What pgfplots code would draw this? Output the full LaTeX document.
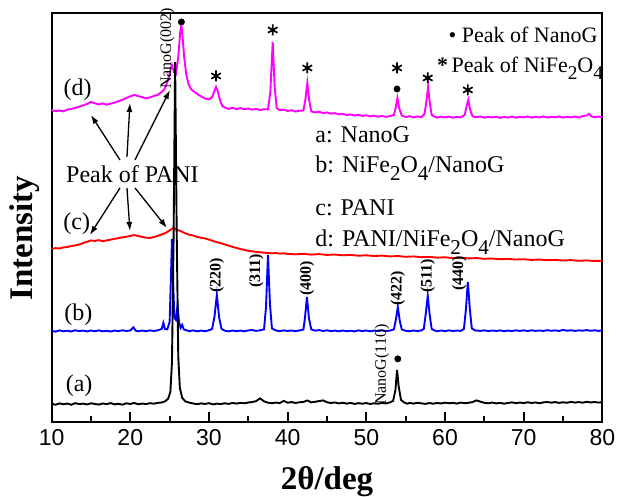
\documentclass[border=0pt]{standalone}
\usepackage{fontspec}
\setmainfont{Liberation Serif}
\setsansfont{Liberation Sans}
\usepackage{graphicx}
\usepackage{pgfplots}
\pgfplotsset{compat=1.18}
\usetikzlibrary{arrows.meta}
\definecolor{cmag}{RGB}{255,0,255}
\definecolor{cred}{RGB}{255,0,0}
\definecolor{cblue}{RGB}{0,0,255}
\newcommand{\fs}[1]{\fontsize{#1}{#1}\selectfont}
\newcommand{\sub}[1]{\raisebox{-0.3em}{\scalebox{0.88}{#1}}}

\begin{document}
\begin{tikzpicture}
\useasboundingbox (-51.6pt,-75pt) rectangle (565.6pt,422pt);
\begin{axis}[
  scale only axis, width=551pt, height=409pt,
  xmin=10, xmax=80, ymin=0, ymax=409,
  clip=false,
  axis line style={line width=2pt},
  xtick={10,20,...,80}, minor x tick num=1, ytick=\empty,
  xtick pos=left, tick align=inside,
  major tick length=10pt, minor tick length=6pt,
  tick style={line width=1.8pt, black},
  /pgf/number format/assume math mode=true,
  xticklabel style={font=\fs{23}\sffamily, yshift=-4pt},
  xlabel={2θ/deg},
  xlabel style={font=\fs{33}\bfseries, at={(axis description cs:0.5,0)}, anchor=base, yshift=-68pt},
  ylabel={Intensity},
  ylabel style={font=\fs{33}\bfseries, at={(axis description cs:-0.0338,0.4487)}, anchor=base},
]
% (d) PANI/NiFe2O4/NanoG
\addplot[cmag, line width=1.9pt] coordinates {
(10,312.0) (10.5,310.8) (11,311.5) (11.5,310.6) (12,312.3) (12.5,313.1) (13,314.0) (13.5,315.3)
(14,316.6) (14.5,318.0) (15,320.0) (15.5,318.7) (16,317.5) (16.5,318.6) (17,317.2) (17.5,318.4)
(18,319.3) (18.5,320.8) (19,322.1) (19.5,324.0) (20,325.6) (20.5,327.0) (21,325.9) (21.5,324.8)
(22,323.6) (22.5,324.5) (23,326.0) (23.5,327.3) (24,330.0) (24.4,333.5) (24.8,342) (25.1,352)
(25.3,357) (25.55,350) (25.8,348) (26.1,365) (26.35,390) (26.5,397) (26.65,385) (26.85,365)
(27.1,348) (27.4,338) (27.7,333) (28.0,331) (28.5,328) (29,325.5) (29.5,323.5) (30.0,322.5)
(30.4,325) (30.7,331) (30.9,335) (31.1,331) (31.4,322) (31.7,316) (32,314.5) (32.5,313.0)
(33,314.2) (33.5,312.8) (34,313.9) (34.5,312.6) (35,313.5) (35.5,312.3) (36,313.1) (36.5,311.9)
(37,312.8) (37.5,312.5) (37.8,330) (38.1,380) (38.35,335) (38.6,314) (39,311.7) (39.5,312.3)
(40,311.0) (40.5,311.8) (41,310.4) (41.5,311.2) (42,311.5) (42.25,322) (42.5,339) (42.75,321)
(43.0,310.5) (43.5,309.6) (44,310.2) (44.5,308.9) (45,309.5) (45.5,308.3) (46,308.8) (46.5,307.6)
(47,308.1) (47.5,306.9) (48,307.5) (48.5,306.4) (49,307.2) (49.5,306.0) (50,306.7) (50.5,305.6)
(51,306.3) (51.5,305.2) (52,306.0) (52.5,305.1) (53,305.8) (53.5,307) (53.75,315) (53.95,324)
(54.2,313) (54.5,306.5) (55,305.0) (55.5,305.8) (56,304.6) (56.5,305.5) (57,304.8) (57.4,308)
(57.65,322) (57.85,335) (58.05,320) (58.3,307) (58.7,305.2) (59,304.3) (59.5,305.3) (60,304.5)
(60.5,305.4) (61,304.2) (61.5,305.1) (62,304.6) (62.5,307) (62.75,316) (62.95,322) (63.2,312)
(63.5,305.5) (64,304.8) (64.5,305.5) (65,304.3) (65.5,305.2) (66,304.5) (66.5,305.3) (67,304.1)
(67.5,305.0) (68,304.4) (68.5,305.4) (69,304.2) (69.5,305.1) (70,304.6) (70.5,305.5) (71,304.3)
(71.5,305.2) (72,304.5) (72.5,305.6) (73,304.4) (73.5,305.1) (74,304.7) (74.5,305.5) (75,304.3)
(75.5,305.2) (76,304.6) (76.5,305.4) (77,304.5) (77.5,305.8) (78,306.5) (78.3,308) (78.6,305.6)
(79,304.8) (79.5,305.4) (80,304.7)};
% (c) PANI
\addplot[cred, line width=1.9pt] coordinates {
(10,173.0) (10.5,173.8) (11,173.4) (11.5,174.5) (12,174.9) (12.5,175.9) (13,176.5) (13.5,177.4)
(14,178.8) (14.5,180.1) (15,181.5) (15.5,181.0) (16,181.8) (16.5,180.7) (17,181.5) (17.5,182.3)
(18,183.1) (18.5,183.8) (19,184.6) (19.5,185.2) (20,186.0) (20.5,186.8) (21,186.0) (21.5,185.0)
(22,184.2) (22.5,184.0) (23,184.9) (23.5,186.0) (24,187.5) (24.5,189.0) (25,191.5) (25.5,194.0)
(26,192.0) (26.5,190.5) (27,188.5) (27.5,187.2) (28,186.4) (28.5,185.0) (29,184.2) (29.5,183.5)
(30,182.3) (30.5,181.0) (31,179.7) (31.5,178.8) (32,177.5) (32.5,176.3) (33,175.0) (33.5,174.0)
(34,172.8) (34.5,172.1) (35,171.0) (35.5,170.6) (36,170.0) (36.5,169.6) (37,169.2) (37.5,169.0)
(38,168.6) (38.5,168.9) (39,168.3) (39.5,168.6) (40,168.0) (41,167.6) (42,168.1) (43,167.3)
(44,167.8) (45,167.0) (46,167.4) (47,166.6) (48,167.0) (49,166.2) (50,166.6) (51,165.9)
(52,166.3) (53,165.5) (54,165.9) (55,165.1) (56,165.5) (57,164.7) (58,165.0) (59,164.3)
(60,164.6) (61,163.9) (62,164.2) (63,163.5) (64,163.8) (65,163.1) (66,163.4) (67,162.7)
(68,163.0) (69,162.4) (70,162.7) (71,162.0) (72,162.4) (73,161.7) (74,162.0) (75,161.4)
(76,161.8) (77,161.1) (78,161.5) (79,160.9) (80,161.2)};
% (b) NiFe2O4/NanoG
\addplot[cblue, line width=1.9pt] coordinates {
(10,91.0) (10.5,90.3) (11,91.5) (11.5,90.6) (12,91.2) (12.5,90.4) (13,91.6) (13.5,90.8)
(14,91.3) (14.5,90.5) (15,91.4) (15.5,90.7) (16,91.5) (16.5,90.6) (17,91.1) (17.5,90.4)
(18,91.3) (18.5,90.8) (19,91.6) (19.5,90.9) (20,91.4) (20.4,94.5) (20.7,91.2) (21,90.6)
(21.5,91.3) (22,90.7) (22.5,91.5) (23,90.9) (23.5,91.6) (24.0,93) (24.2,99) (24.4,93)
(24.7,92.5) (25.0,100) (25.15,140) (25.3,183) (25.45,140) (25.6,104) (25.8,102) (26.0,116)
(26.2,100) (26.4,94) (26.6,97) (26.8,92.5) (27.2,91.4) (27.5,90.8) (28,91.5) (28.5,90.6)
(29,91.3) (29.5,90.7) (30,91.6) (30.4,93) (30.7,105) (31.0,127) (31.3,104) (31.6,93)
(32,91.2) (32.5,90.5) (33,91.4) (33.5,90.7) (34,91.3) (34.5,90.6) (35,91.5) (35.5,91.8)
(36,91.0) (36.5,91.6) (37,92.5) (37.25,115) (37.5,167) (37.75,118) (38.0,93.5) (38.5,91.4)
(39,90.8) (39.5,91.5) (40,90.9) (40.5,91.4) (41,90.7) (41.5,91.5) (42,92.3) (42.2,104)
(42.45,125) (42.7,104) (43,92.5) (43.5,91.2) (44,91.8) (44.5,90.9) (45,91.6) (45.5,90.8)
(46,91.3) (46.5,90.6) (47,91.4) (47.5,90.7) (48,91.2) (48.5,90.5) (49,91.5) (49.5,90.8)
(50,91.4) (50.5,90.6) (51,91.3) (51.5,90.9) (52,91.6) (52.5,90.8) (53,91.3) (53.5,92.5)
(53.75,102) (54.0,115) (54.25,101) (54.5,92.5) (55,91.1) (55.5,90.7) (56,91.4) (56.5,90.8)
(57,91.5) (57.3,93) (57.55,108) (57.8,126) (58.05,107) (58.3,93) (58.7,91.3) (59,90.7)
(59.5,91.4) (60,90.8) (60.5,91.5) (61,90.9) (61.5,91.3) (62,91.0) (62.4,93) (62.65,112)
(62.9,140) (63.15,113) (63.4,93.5) (63.8,91.5) (64.5,91.0) (65,91.6) (65.5,90.8) (66,91.4)
(66.5,90.9) (67,91.5) (67.5,90.7) (68,91.3) (68.5,90.8) (69,91.6) (69.5,91.0) (70,91.5)
(70.5,90.9) (71,91.6) (71.5,91.0) (72,91.4) (72.5,90.9) (73,91.7) (73.5,91.1) (74,91.5)
(74.5,90.9) (75,92.0) (75.5,91.2) (76,91.6) (76.5,91.0) (77,91.5) (77.5,91.2) (78,91.8)
(78.5,91.1) (79,91.6) (79.5,91.0) (80,91.5)};
% (a) NanoG
\addplot[black, line width=1.9pt] coordinates {
(10,18.0) (10.5,17.2) (11,18.5) (11.5,17.6) (12,18.3) (12.5,17.1) (13,18.7) (13.5,17.8)
(14,18.2) (14.5,17.4) (15,18.6) (15.5,17.9) (16,17.3) (16.5,18.4) (17,17.7) (17.5,18.8)
(18,17.5) (18.5,18.1) (19,17.2) (19.5,18.6) (20,17.9) (20.5,18.9) (21,17.6) (21.5,18.3)
(22,17.8) (22.5,18.7) (23,18.2) (23.5,19.0) (24,19.4) (24.4,20.5) (24.8,23) (25.1,30)
(25.3,60) (25.5,180) (25.7,360) (25.9,190) (26.1,65) (26.3,34) (26.6,24) (27.0,20.5)
(27.5,19.2) (28,18.4) (28.5,17.6) (29,18.5) (29.5,17.9) (30,18.7) (30.5,17.5) (31,18.2)
(31.5,17.8) (32,18.6) (32.5,18.0) (33,18.9) (33.5,18.3) (34,19.0) (34.5,18.6) (35,19.4)
(35.5,19.8) (36,20.8) (36.5,23.5) (37,20.5) (37.5,19.2) (38,18.6) (38.5,19.3) (39,18.8)
(39.5,21.0) (40,19.2) (40.5,19.8) (41,18.9) (41.5,19.6) (42,19.9) (42.5,21.4) (43,19.5)
(43.5,20.1) (44,20.8) (44.5,21.5) (45,19.6) (45.5,18.9) (46,19.4) (46.5,18.5) (47,19.1)
(47.5,18.3) (48,18.9) (48.5,18.0) (49,18.7) (49.5,18.2) (50,18.8) (50.5,17.9) (51,18.6)
(51.5,18.1) (52,19.0) (52.5,18.4) (53,19.5) (53.4,21) (53.7,32) (53.9,52) (54.1,36)
(54.4,22) (54.8,19.4) (55.2,18.2) (55.5,18.9) (56,18.3) (56.5,19.1) (57,18.5) (57.5,18.0)
(58,18.8) (58.5,18.2) (59,18.9) (59.5,18.4) (60,19.2) (60.5,18.6) (61,19.0) (61.5,18.3)
(62,19.3) (62.5,18.7) (63,19.1) (63.5,19.8) (64,21.5) (64.5,20.2) (65,19.0) (65.5,18.6)
(66,19.3) (66.5,18.5) (67,19.0) (67.5,18.2) (68,18.9) (68.5,19.5) (69,18.7) (69.5,19.3)
(70,18.8) (70.5,19.6) (71,18.9) (71.5,19.4) (72,18.6) (72.5,19.5) (73,19.9) (73.5,19.2)
(74,19.8) (74.5,19.0) (75,19.6) (75.5,19.1) (76,20.0) (76.5,19.3) (77,19.8) (77.5,19.2)
(78,20.1) (78.5,19.4) (79,19.9) (79.5,19.3) (80,19.7)};
% peak markers
\addplot[only marks, mark=asterisk, mark size=5.5pt, line width=1.7pt, black] coordinates {
(30.9,346) (38.1,392) (42.5,354) (53.9,354) (57.8,344) (62.9,332)};
\addplot[only marks, mark=*, mark size=3.2pt, black] coordinates {
(26.5,400) (53.9,333) (54.0,63)};

% labels
\node[font=\fs{24}, inner sep=0pt] at (axis cs:13.3,332) {(d)};
\node[font=\fs{24}, inner sep=0pt] at (axis cs:13.2,198) {(c)};
\node[font=\fs{24}, inner sep=0pt] at (axis cs:13.4,107) {(b)};
\node[font=\fs{24}, inner sep=0pt] at (axis cs:13.5,36) {(a)};
\node[font=\fs{24}, inner sep=0pt, anchor=base west] at (axis cs:11.83,239) {Peak of PANI};
\draw[line width=1.3pt, -{Latex[length=9pt,width=6pt]}] (axis cs:18.69,262) -- (axis cs:15.0,307);
\draw[line width=1.3pt, -{Latex[length=9pt,width=6pt]}] (axis cs:19.58,265) -- (axis cs:19.96,319);
\draw[line width=1.3pt, -{Latex[length=9pt,width=6pt]}] (axis cs:20.6,262) -- (axis cs:25.04,332);
\draw[line width=1.3pt, -{Latex[length=9pt,width=6pt]}] (axis cs:18.69,234) -- (axis cs:14.88,187);
\draw[line width=1.3pt, -{Latex[length=9pt,width=6pt]}] (axis cs:19.58,234) -- (axis cs:19.96,191);
\draw[line width=1.3pt, -{Latex[length=9pt,width=6pt]}] (axis cs:20.6,234) -- (axis cs:24.66,194);

\node[font=\fs{24}, inner sep=0pt, anchor=base west] at (axis cs:43.5,279) {a: NanoG};
\node[font=\fs{24}, inner sep=0pt, anchor=base west] at (axis cs:43.5,249) {b: NiFe\sub{2}O\sub{4}/NanoG};
\node[font=\fs{24}, inner sep=0pt, anchor=base west] at (axis cs:43.5,206) {c: PANI};
\node[font=\fs{24}, inner sep=0pt, anchor=base west] at (axis cs:43.5,175) {d: PANI/NiFe\sub{2}O\sub{4}/NanoG};

\node[font=\fs{22}, inner sep=0pt, anchor=base east] at (axis cs:79.4,379) {• Peak of NanoG};
\node[font=\fs{22}, inner sep=0pt, anchor=base west] at (axis cs:58.96,349) {{\bfseries *}\,Peak of NiFe\sub{2}O\sub{4}};

\node[font=\fs{16}\bfseries, inner sep=0pt, rotate=90, anchor=west] at (axis cs:31.0,129) {(220)};
\node[font=\fs{16}\bfseries, inner sep=0pt, rotate=90, anchor=west] at (axis cs:36.0,134) {(311)};
\node[font=\fs{16}\bfseries, inner sep=0pt, rotate=90, anchor=west] at (axis cs:42.45,126) {(400)};
\node[font=\fs{16}\bfseries, inner sep=0pt, rotate=90, anchor=west] at (axis cs:54.0,116) {(422)};
\node[font=\fs{16}\bfseries, inner sep=0pt, rotate=90, anchor=west] at (axis cs:57.8,129) {(511)};
\node[font=\fs{16}\bfseries, inner sep=0pt, rotate=90, anchor=west] at (axis cs:61.8,131) {(440)};
\node[font=\fs{16}, inner sep=0pt, rotate=90, anchor=west] at (axis cs:24.7,333) {NanoG(002)};
\node[font=\fs{16}, inner sep=0pt, rotate=90, anchor=west] at (axis cs:52.0,17) {NanoG(110)};
\end{axis}
\end{tikzpicture}
\end{document}
